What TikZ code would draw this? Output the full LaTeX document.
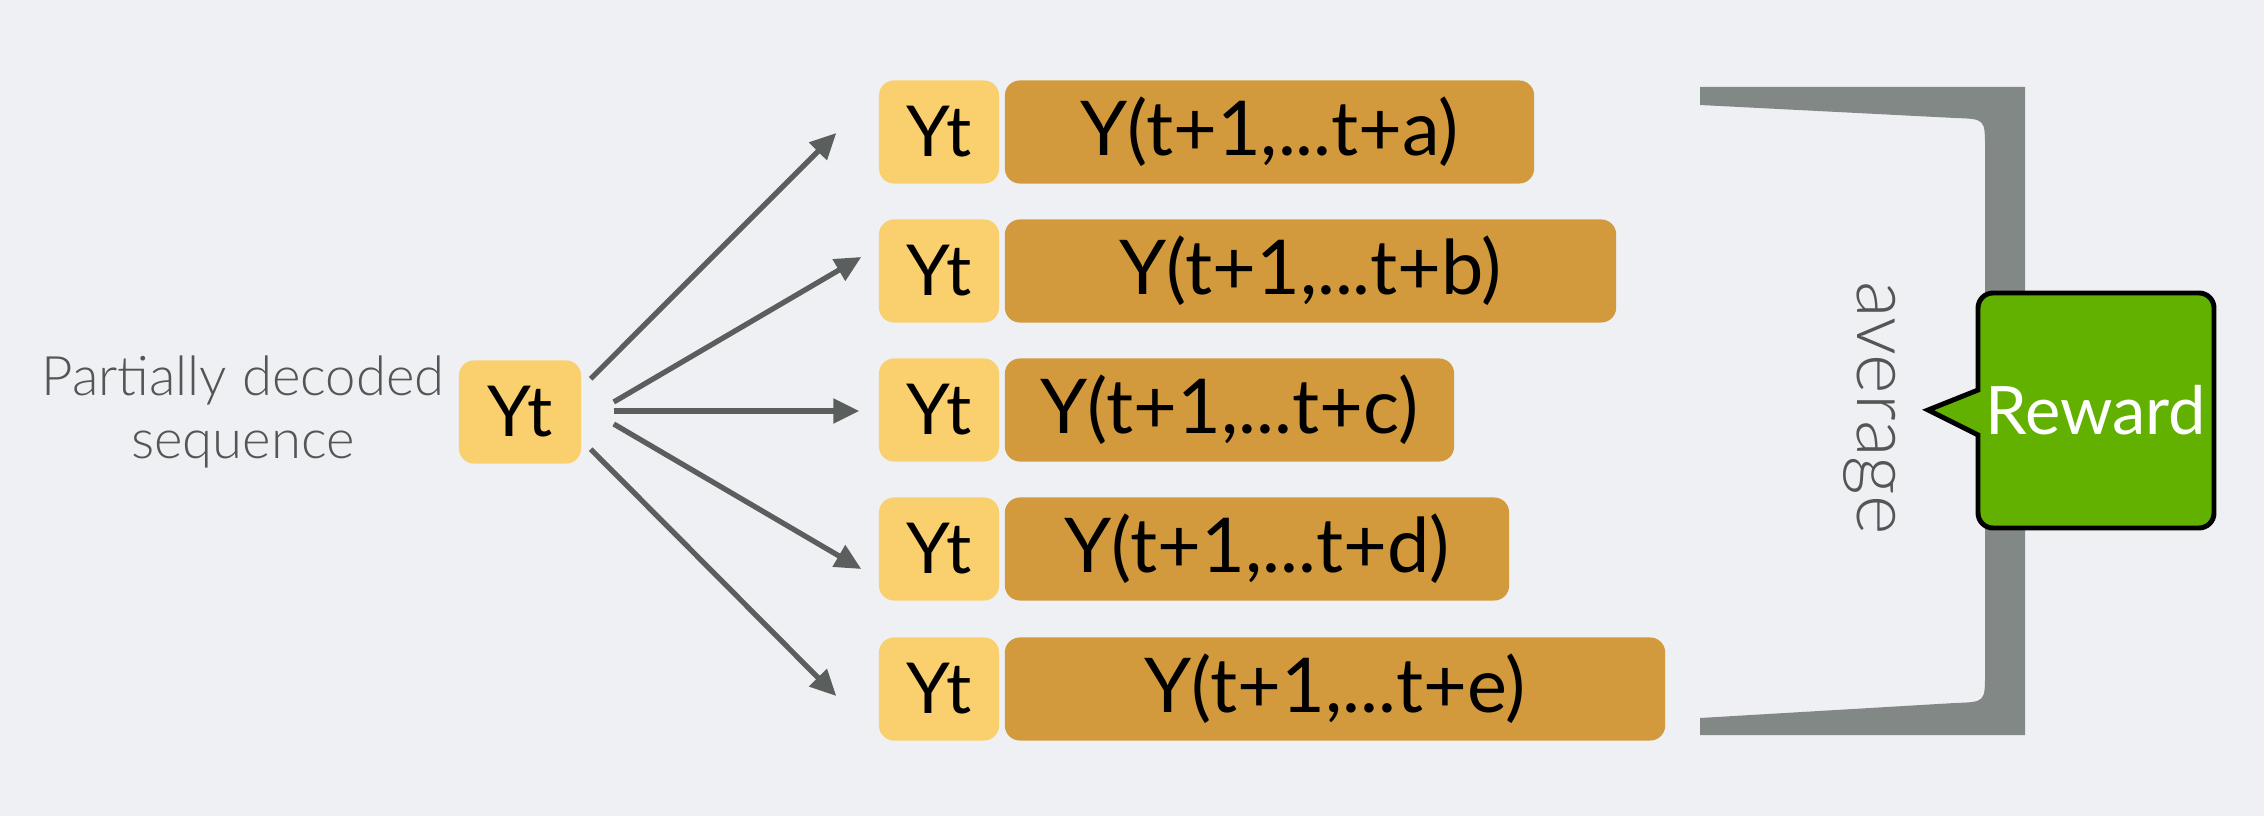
\documentclass[tikz,border=0pt]{standalone}
\usepackage{fontspec}
\setmainfont{Lato}
\newfontfamily\lightfont{Lato Light}
\usetikzlibrary{arrows.meta,calc}
\definecolor{bg}{HTML}{EEF0F3}
\definecolor{ylight}{HTML}{FAD06E}
\definecolor{ydark}{HTML}{D29A3C}
\definecolor{arrowgray}{HTML}{5A5E5D}
\definecolor{brgray}{HTML}{828885}
\definecolor{rgreen}{HTML}{62B000}
\definecolor{txtgray}{HTML}{555555}
\begin{document}
\begin{tikzpicture}[x=0.01cm,y=-0.01cm,
  lbl/.style={font=\fontsize{20}{24}\selectfont, text=black, inner sep=0pt, rounded corners=0.15cm},
  smallbox/.style={lbl, fill=ylight, minimum width=1.2cm, minimum height=1.03cm},
  bigbox/.style={lbl, fill=ydark, minimum height=1.03cm, font=\fontsize{21.5}{25}\selectfont},
  arr/.style={draw=arrowgray, line width=1.5pt, -{Triangle[length=0.26cm,width=0.24cm]}},
  graytext/.style={text=txtgray, inner sep=0pt},
]
\fill[bg] (0,0) rectangle (2264,816);
\useasboundingbox (0,0) rectangle (2264,816);

% bracket
\fill[brgray] (1700,87) -- (2025,87) -- (2025,735) -- (1700,735) -- (1700,718)
  -- (1955,703) .. controls (1985,702) .. (1985,673) -- (1985,148)
  .. controls (1985,119) .. (1955,118) -- (1700,105) -- cycle;

% source
\node[graytext, align=center, font=\lightfont\fontsize{15.5}{18}\selectfont] (lab) at (243,412) {Partially decoded\\sequence};
\node[smallbox, minimum width=1.22cm] (src) at (520,412) {Yt};

% rows
\node[smallbox] (ya) at (939,132) {Yt};
\node[smallbox] (yb) at (939,271) {Yt};
\node[smallbox] (yc) at (939,410) {Yt};
\node[smallbox] (yd) at (939,549) {Yt};
\node[smallbox] (ye) at (939,689) {Yt};

\node[bigbox, minimum width=5.29cm] (ba) at (1269.5,132) {Y(t+1,...t+a)};
\node[bigbox, minimum width=6.11cm] (bb) at (1310.5,271) {Y(t+1,...t+b)};
\node[bigbox, minimum width=4.49cm] (bc) at (1229.5,410) {Y(t+1,...t+c)};
\node[bigbox, minimum width=5.04cm] (bd) at (1257,549) {Y(t+1,...t+d)};
\node[bigbox, minimum width=6.60cm] (be) at (1335,689) {Y(t+1,...t+e)};

% arrows
\coordinate (s1) at ($(src.north east)+(9,19)$);
\coordinate (s2) at ($(src.east)+(32,-10)$);
\coordinate (s3) at ($(src.east)+(32,-1)$);
\coordinate (s4) at ($(src.east)+(32,12)$);
\coordinate (s5) at ($(src.south east)+(9,-15)$);
\draw[arr] (s1) -- ($(ya.west)+(-42,1)$);
\draw[arr] (s2) -- ($(yb.west)+(-17,-14)$);
\draw[arr] (s3) -- ($(yc.west)+(-19,1)$);
\draw[arr] (s4) -- ($(yd.west)+(-17,20)$);
\draw[arr] (s5) -- ($(ye.west)+(-42,7)$);

% average
\node[graytext, rotate=-90, font=\lightfont\fontsize{21.5}{25}\selectfont] (avg) at (1870,408) {average};

% reward callout
\draw[line width=1.4pt, fill=rgreen] (1928,410) -- (1978,390) [rounded corners=0.15cm] -- (1978,293) -- (2214,293) -- (2214,528) -- (1978,528) [sharp corners] -- (1978,435) -- cycle;
\node[text=white, inner sep=0pt, font=\fontsize{19}{23}\selectfont] (rw) at (2096,410) {Reward};
\end{tikzpicture}
\end{document}
